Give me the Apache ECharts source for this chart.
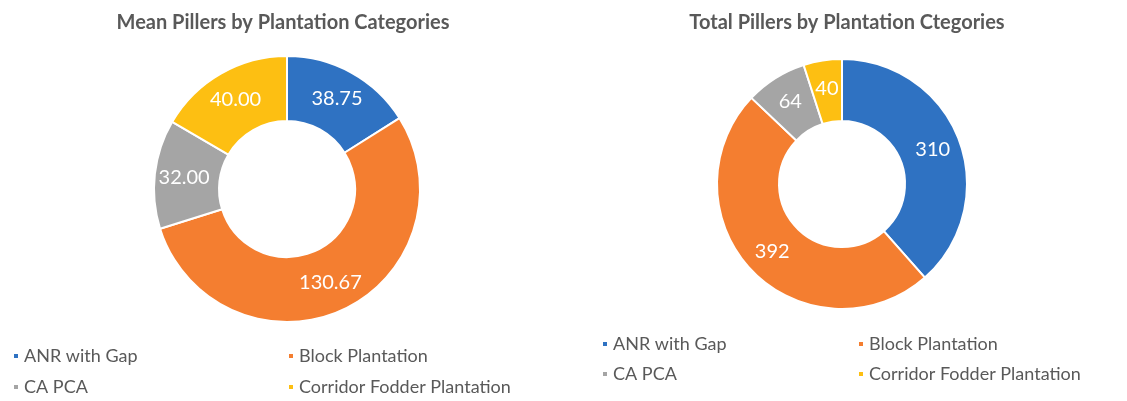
<!DOCTYPE html>
<html>
<head>
<meta charset="utf-8">
<script src="https://cdn.jsdelivr.net/npm/echarts@6/dist/echarts.min.js"></script>
<style>
html,body{margin:0;padding:0;background:#fff;}
#main{width:1127px;height:401px;}
</style>
</head>
<body>
<div id="main"></div>
<script>
// 数据
var categories = ['ANR with Gap', 'Block Plantation', 'CA PCA', 'Corridor Fodder Plantation'];
var meanValues = [38.75, 130.67, 32.00, 40.00];
var totalValues = [310, 392, 64, 40];
var titles = ['Mean Pillers by Plantation Categories', 'Total Pillers by Plantation Ctegories'];
var colors = ['#2f72c2', '#f47e30', '#a5a5a5', '#fdbf12'];

var myChart = echarts.init(document.getElementById('main'));

function pieData(vals){
	var res = [];
	for (var i = 0; i < categories.length; i++) {
		res.push({name: categories[i], value: vals[i]});
	}
	return res;
}

// 图例位置 (每个图各两行两列)
var legendPos = [
	[[12, 347], [287, 347], [12, 378], [287, 378]],
	[[601, 335], [857, 335], [601, 365], [857, 365]]
];
var legends = [];
for (var c = 0; c < 2; c++) {
	for (var k = 0; k < 4; k++) {
		legends.push({
			left: legendPos[c][k][0],
			top: legendPos[c][k][1],
			padding: 0,
			data: [categories[k]],
			icon: 'rect',
			itemWidth: 6,
			itemHeight: 6,
			itemGap: 0,
			selectedMode: false,
			textStyle: {color: '#595959', fontSize: 18, fontFamily: 'Lato'}
		});
	}
}

var labelStyle = {
	show: true,
	position: 'inside',
	color: '#ffffff',
	fontSize: 20,
	fontFamily: 'Lato'
};

option = {
	color: colors,
	animation: false,
	title: [
		{
			text: titles[0],
			left: 278,
			top: 8,
			textAlign: 'center',
			textStyle: {color: '#595959', fontSize: 20, fontWeight: 'bold', fontFamily: 'Lato'}
		},
		{
			text: titles[1],
			left: 842,
			top: 8,
			textAlign: 'center',
			textStyle: {color: '#595959', fontSize: 20, fontWeight: 'bold', fontFamily: 'Lato'}
		}
	],
	legend: legends,
	series: [
		{
			name: titles[0],
			type: 'pie',
			radius: [68, 133],
			center: [287, 189],
			startAngle: 90,
			clockwise: true,
			data: pieData(meanValues),
			label: Object.assign({}, labelStyle, {
				formatter: function(p){ return p.value.toFixed(2); }
			}),
			labelLine: {show: false},
			itemStyle: {borderColor: '#fff', borderWidth: 2},
			emphasis: {disabled: true}
		},
		{
			name: titles[1],
			type: 'pie',
			radius: [63, 125],
			center: [842, 184],
			startAngle: 90,
			clockwise: true,
			data: pieData(totalValues),
			label: Object.assign({}, labelStyle, {formatter: '{c}'}),
			labelLine: {show: false},
			itemStyle: {borderColor: '#fff', borderWidth: 2},
			emphasis: {disabled: true}
		}
	]
};

myChart.setOption(option);
</script>
</body>
</html>
